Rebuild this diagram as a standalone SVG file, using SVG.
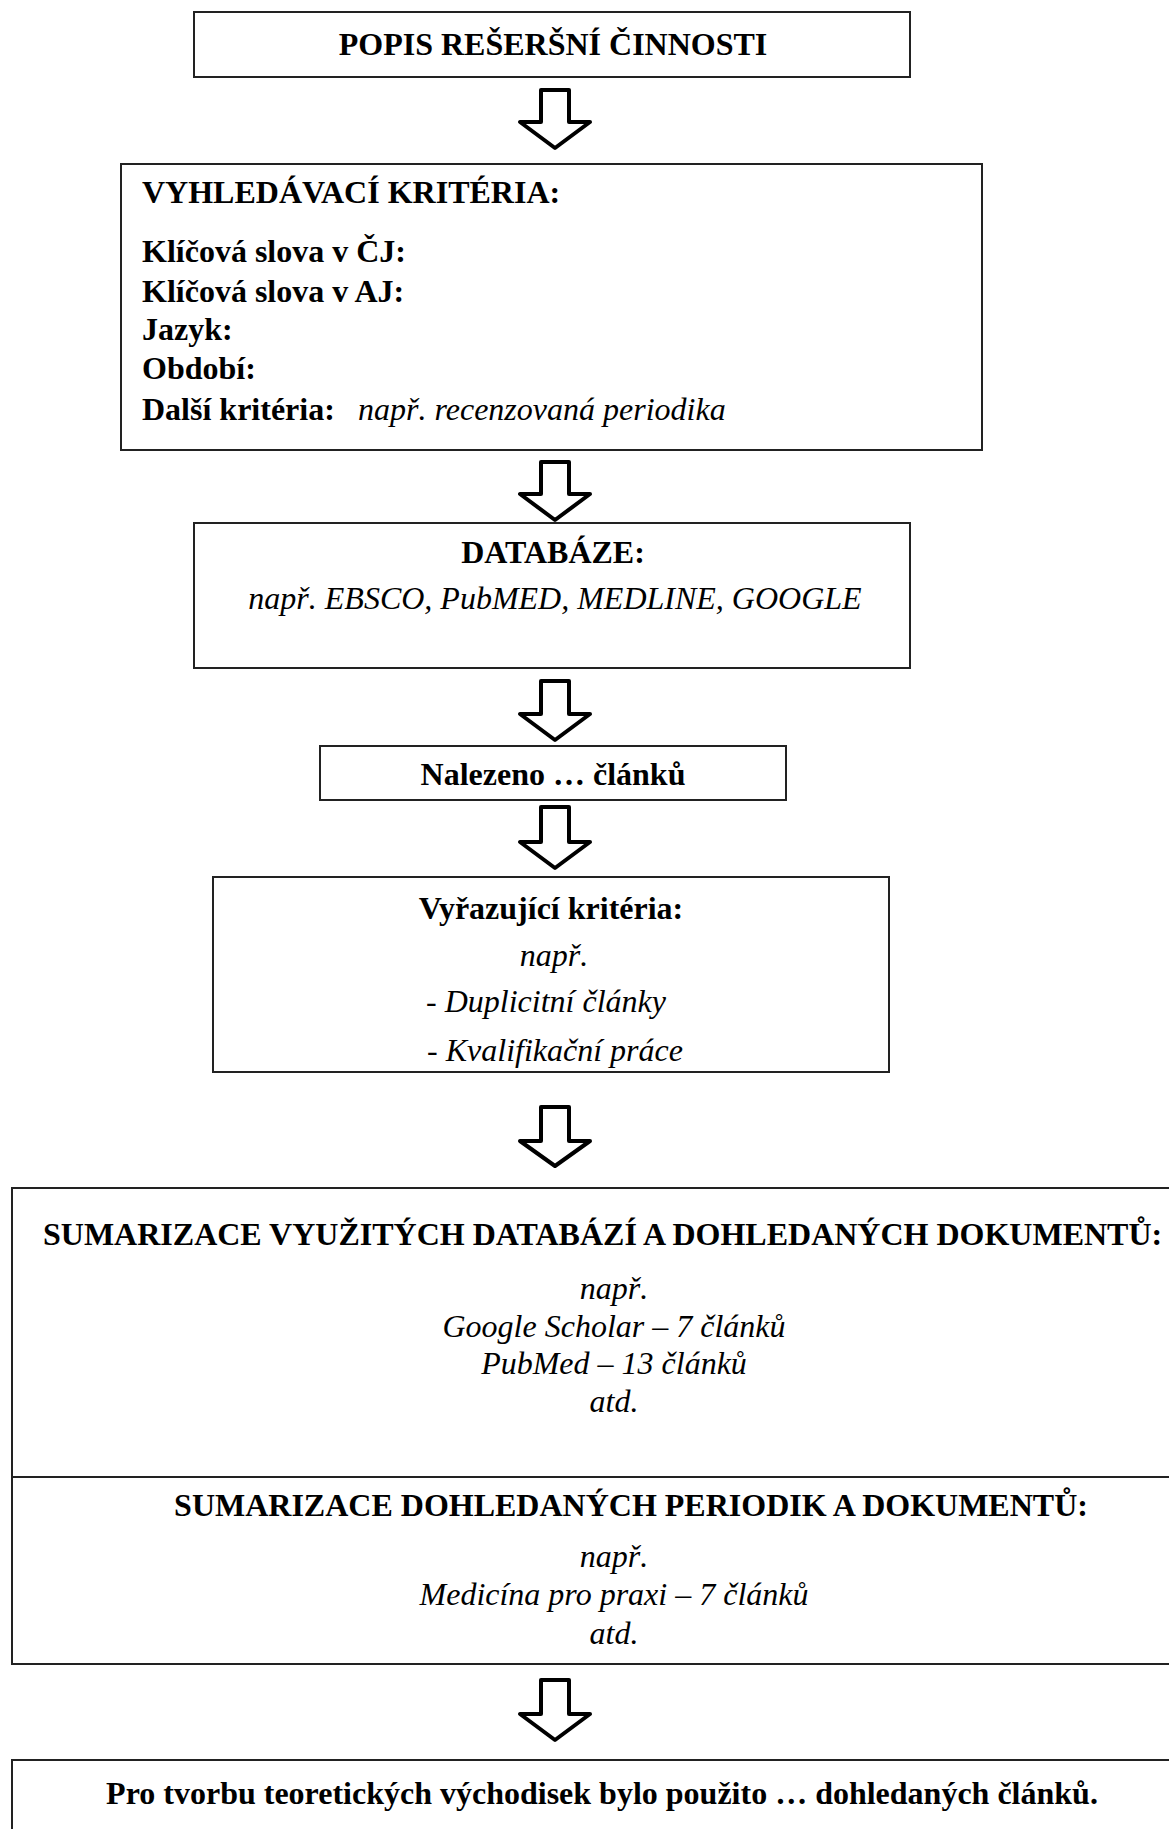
<svg xmlns="http://www.w3.org/2000/svg" width="1169" height="1829" viewBox="0 0 1169 1829">
<defs>
<style>
.box{fill:#fff;stroke:#222;stroke-width:2}
.arr{fill:#fff;stroke:#000;stroke-width:4;stroke-linejoin:round}
text{font-family:"Liberation Serif","Times New Roman",serif;font-size:32px;fill:#000}
.b{font-weight:bold}
.i{font-style:italic}
.c{text-anchor:middle}
</style>
</defs>
<rect width="1169" height="1829" fill="#fff"/>
<g id="connectors">
<path class="arr" d="M541,90 L569,90 L569,122 L590,122 L555,148 L520,122 L541,122 Z"/>
<path class="arr" d="M541,462 L569,462 L569,494 L590,494 L555,520 L520,494 L541,494 Z"/>
<path class="arr" d="M541,681 L569,681 L569,714 L590,714 L555,740 L520,714 L541,714 Z"/>
<path class="arr" d="M541,807 L569,807 L569,842 L590,842 L555,868 L520,842 L541,842 Z"/>
<path class="arr" d="M541,1107 L569,1107 L569,1141 L590,1141 L555,1166 L520,1141 L541,1141 Z"/>
<path class="arr" d="M541,1680 L569,1680 L569,1714 L590,1714 L555,1740 L520,1714 L541,1714 Z"/>
</g>
<g id="n1">
<rect class="box" x="194" y="12" width="716" height="65"/>
<text class="b c" x="553" y="55">POPIS REŠERŠNÍ ČINNOSTI</text>
</g>
<g id="n2">
<rect class="box" x="121" y="164" width="861" height="286"/>
<text class="b" x="142" y="203">VYHLEDÁVACÍ KRITÉRIA:</text>
<text class="b" x="142" y="262">Klíčová slova v ČJ:</text>
<text class="b" x="142" y="302">Klíčová slova v AJ:</text>
<text class="b" x="142" y="340">Jazyk:</text>
<text class="b" x="142" y="379">Období:</text>
<text x="142" y="420"><tspan class="b">Další kritéria:</tspan></text>
<text class="i" x="358" y="420">např. recenzovaná periodika</text>
</g>
<g id="n3">
<rect class="box" x="194" y="523" width="716" height="145"/>
<text class="b c" x="553" y="563">DATABÁZE:</text>
<text class="i c" x="555" y="609">např. EBSCO, PubMED, MEDLINE, GOOGLE</text>
</g>
<g id="n4">
<rect class="box" x="320" y="746" width="466" height="54"/>
<text class="b c" x="553" y="785">Nalezeno … článků</text>
</g>
<g id="n5">
<rect class="box" x="213" y="877" width="676" height="195"/>
<text class="b c" x="551" y="919">Vyřazující kritéria:</text>
<text class="i c" x="554" y="966">např.</text>
<text class="i c" x="546" y="1012">- Duplicitní články</text>
<text class="i c" x="555" y="1061">- Kvalifikační práce</text>
</g>
<g id="n6">
<rect class="box" x="12" y="1188" width="1210" height="476"/>
<line x1="12" y1="1477" x2="1222" y2="1477" stroke="#222" stroke-width="2"/>
<text class="b" x="43" y="1245">SUMARIZACE VYUŽITÝCH DATABÁZÍ A DOHLEDANÝCH DOKUMENTŮ:</text>
<text class="i c" x="614" y="1299">např.</text>
<text class="i c" x="614" y="1337">Google Scholar – 7 článků</text>
<text class="i c" x="614" y="1374">PubMed – 13 článků</text>
<text class="i c" x="614" y="1412">atd.</text>
<text class="b c" x="631" y="1516">SUMARIZACE DOHLEDANÝCH PERIODIK A DOKUMENTŮ:</text>
<text class="i c" x="614" y="1567">např.</text>
<text class="i c" x="614" y="1605">Medicína pro praxi – 7 článků</text>
<text class="i c" x="614" y="1644">atd.</text>
</g>
<g id="n7">
<rect class="box" x="12" y="1760" width="1210" height="100"/>
<text class="b c" x="602" y="1804">Pro tvorbu teoretických východisek bylo použito … dohledaných článků.</text>
</g>
</svg>
